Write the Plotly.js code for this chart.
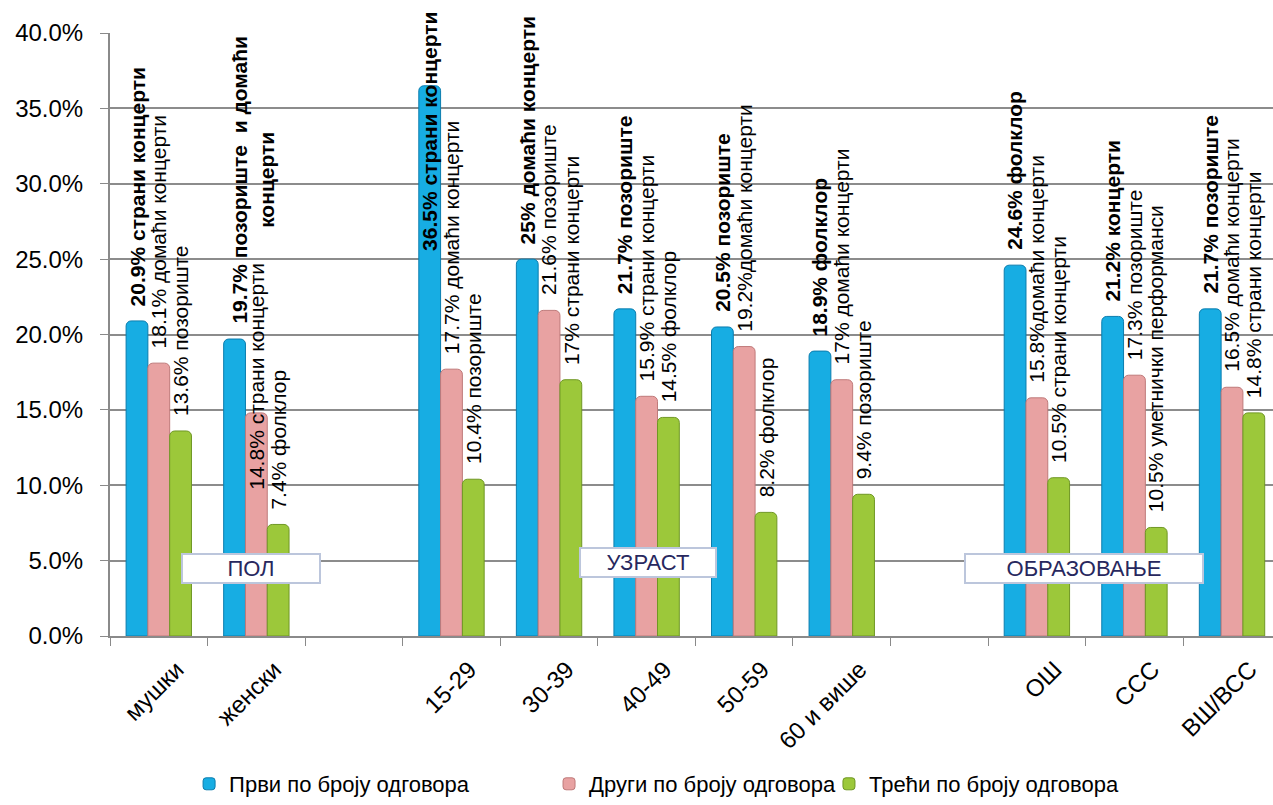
<!DOCTYPE html>
<html>
<head>
<meta charset="utf-8">
<script src="https://cdn.plot.ly/plotly-3.0.1.min.js"></script>
<style>
  html, body { margin: 0; padding: 0; background: #ffffff; }
  #chart { width: 1273px; height: 805px; }
</style>
</head>
<body>
<div id="chart"></div>
<script>
// ---- data ----
const categories = ["мушки", "женски", " ", "15-29", "30-39", "40-49", "50-59", "60 и више", "  ", "ОШ", "ССС", "ВШ/ВСС"];
const seriesNames = ["Први по броју одговора", "Други по броју одговора", "Трећи по броју одговора"];
const firstValues  = [20.9, 19.7, null, 36.5, 25.0, 21.7, 20.5, 18.9, null, 24.6, 21.2, 21.7];
const secondValues = [18.1, 14.8, null, 17.7, 21.6, 15.9, 19.2, 17.0, null, 15.8, 17.3, 16.5];
const thirdValues  = [13.6, 7.4, null, 10.4, 17.0, 14.5, 8.2, 9.4, null, 10.5, 7.2, 14.8];
const firstLabels  = ["20.9% страни концерти", "19.7% позориште  и домаћи<br>концерти", "", "36.5% страни концерти", "25% домаћи концерти", "21.7% позориште", "20.5% позориште", "18.9% фолклор", "", "24.6% фолклор", "21.2% концерти", "21.7% позориште"];
const secondLabels = ["18.1% домаћи концерти", "14.8% страни концерти", "", "17.7% домаћи концерти", "21.6% позориште", "15.9% страни концерти", "19.2%домаћи концерти", "17% домаћи концерти", "", "15.8%домаћи концерти", "17.3% позориште", "16.5% домаћи концерти"];
const thirdLabels  = ["13.6% позориште", "7.4% фолклор", "", "10.4% позориште", "17% страни концерти", "14.5% фолклор", "8.2% фолклор", "9.4% позориште", "", "10.5% страни концерти", "10.5% уметнички перформанси", "14.8% страни концерти"];
const groupNames = ["ПОЛ", "УЗРАСТ", "ОБРАЗОВАЊЕ"];

// ---- styles ----
const FONT = "Arial, 'Liberation Sans', sans-serif";
const colors = ["#17ADE3", "#E8A2A2", "#9CC83A"];
const edgeColors = ["#0B7DAE", "#BF7A7A", "#6F9724"];
const BARGAP = 0.33;
const barW = (1 - BARGAP) / 3;
// label placement: default offset above bar top (px); a few labels sit elsewhere
const labelShiftDefault = 13;
const labelOverrides = { "0-1": { xshift: 18 }, "1-1": { yshift: -79 }, "0-3": { yshift: -167 } };
// group boxes (position in axis units)
const groupBoxes = [
  { x: 0.945, y: 4.5, w: 134, h: 25 },
  { x: 5.01, y: 4.85, w: 132, h: 25 },
  { x: 9.48, y: 4.5, w: 234, h: 25 }
];
// legend placement (paper x of each legend)
const legendX = [0.068, 0.3775, 0.6182];

const valueSets = [firstValues, secondValues, thirdValues];
const labelSets = [firstLabels, secondLabels, thirdLabels];
const legendIds = ["legend", "legend2", "legend3"];

const traces = valueSets.map((vals, s) => ({
  type: "bar",
  name: seriesNames[s],
  x: categories,
  y: vals,
  legend: legendIds[s],
  marker: { color: colors[s], line: { color: edgeColors[s], width: 1 }, cornerradius: 5 },
  hoverinfo: "skip"
}));

const annotations = [];
valueSets.forEach((vals, s) => {
  vals.forEach((v, i) => {
    if (v === null || !labelSets[s][i]) return;
    const ov = labelOverrides[s + "-" + i] || {};
    annotations.push({
      xref: "x", yref: "y",
      x: i + (s - 1) * barW,
      y: v,
      text: labelSets[s][i],
      textangle: -90,
      showarrow: false,
      xanchor: "center", yanchor: "bottom",
      yshift: ov.yshift !== undefined ? ov.yshift : labelShiftDefault,
      xshift: ov.xshift || 0,
      align: "center",
      font: { family: FONT, size: 21, color: "#000000", weight: s === 0 ? "bold" : "normal" }
    });
  });
});
groupNames.forEach((g, k) => {
  const b = groupBoxes[k];
  annotations.push({
    xref: "x", yref: "y", x: b.x, y: b.y,
    text: g, showarrow: false,
    width: b.w, height: b.h,
    bgcolor: "#ffffff", bordercolor: "#BCC6DC", borderwidth: 2, borderpad: 1,
    font: { family: FONT, size: 22, color: "#28285E" }
  });
});

function legendCfg(x) {
  return {
    orientation: "h", x: x, y: -0.245, xanchor: "left", yanchor: "middle",
    font: { family: FONT, size: 22, color: "#000000" },
    itemwidth: 30, bgcolor: "rgba(0,0,0,0)"
  };
}

const layout = {
  width: 1273, height: 805,
  margin: { l: 110, r: 0, t: 33, b: 168 },
  paper_bgcolor: "#ffffff", plot_bgcolor: "#ffffff",
  barmode: "group", bargap: BARGAP, bargroupgap: 0,
  showlegend: true,
  legend: legendCfg(legendX[0]),
  legend2: legendCfg(legendX[1]),
  legend3: legendCfg(legendX[2]),
  xaxis: {
    type: "category", categoryorder: "array", categoryarray: categories,
    range: [-0.5, 11.42], automargin: false,
    tickson: "boundaries", ticks: "outside", ticklen: 8, tickcolor: "#8a8a8a", tickwidth: 1,
    ticklabelstandoff: 8, ticklabelshift: 18,
    showline: true, linecolor: "#8a8a8a", linewidth: 2,
    showgrid: false, tickangle: -45,
    tickfont: { family: FONT, size: 24, color: "#000000" },
    fixedrange: true
  },
  yaxis: {
    range: [0, 40], dtick: 5, tickformat: ".1f", ticksuffix: "%",
    automargin: false,
    ticks: "outside", ticklen: 8, tickcolor: "#8a8a8a", tickwidth: 1,
    ticklabelstandoff: 12,
    showline: true, linecolor: "#8a8a8a", linewidth: 2,
    showgrid: true, gridcolor: "#8c8c8c", gridwidth: 2,
    zeroline: false,
    tickfont: { family: FONT, size: 24, color: "#000000" },
    fixedrange: true
  },
  annotations: annotations
};

Plotly.newPlot("chart", traces, layout, { displayModeBar: false, staticPlot: true });
</script>
</body>
</html>
